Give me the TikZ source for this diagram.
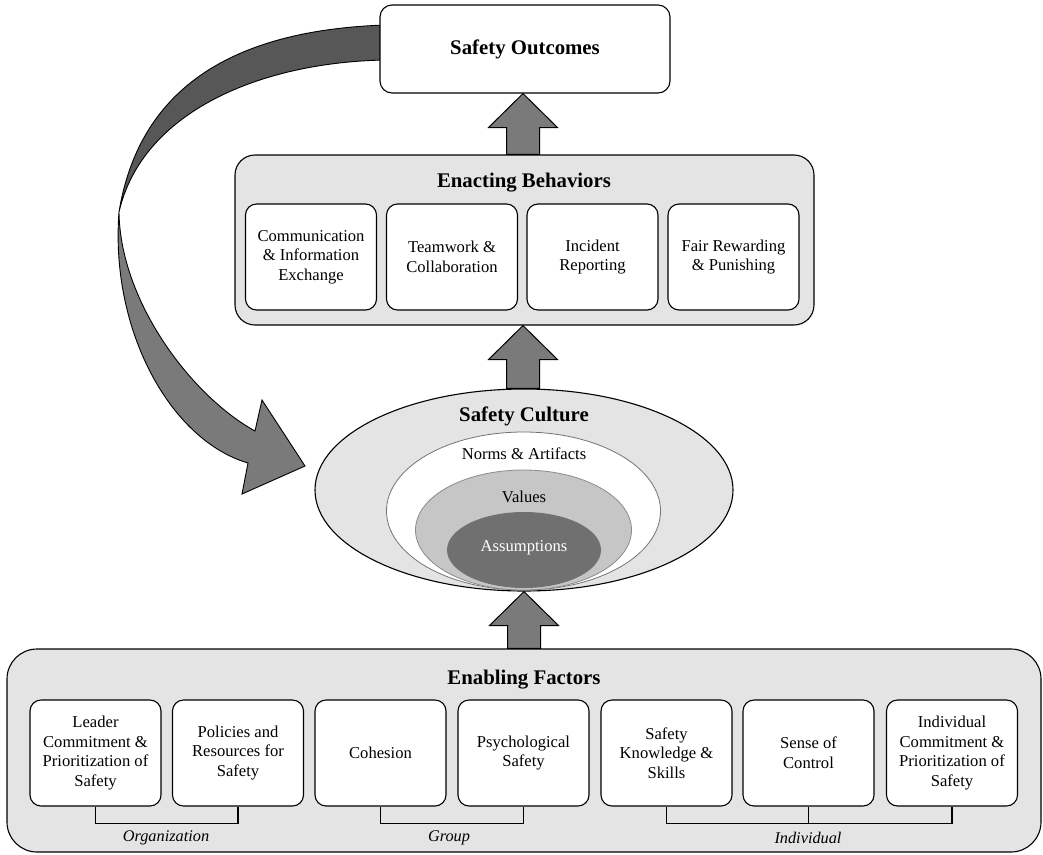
\documentclass[tikz,border=0pt]{standalone}
\usepackage{fontspec}
\setmainfont{Liberation Serif}
\usetikzlibrary{shapes.geometric,calc}
\newcommand\myBody{\fontsize{16.6}{19.7}\selectfont}
\newcommand\myTitle{\fontsize{20.8}{24}\selectfont\bfseries}
\newcommand\myItal{\fontsize{16.3}{19}\selectfont\itshape}
\definecolor{contgray}{HTML}{E4E4E4}
\definecolor{arrgray}{HTML}{7A7A7A}
\definecolor{backgray}{HTML}{575757}
\definecolor{valgray}{HTML}{C6C6C6}
\definecolor{asgray}{HTML}{707070}
\newcommand\blockup[2]{%
  \draw[blockarr] (#1) -- ($(#1)+(34.5,34)$) -- ($(#1)+(16.5,34)$) --
    ($(#1 |- #2)+(16.5,0)$) -- ($(#1 |- #2)+(-16.5,0)$) --
    ($(#1)+(-16.5,34)$) -- ($(#1)+(-34.5,34)$) -- cycle;}
\begin{document}
\begin{tikzpicture}[x=1pt,y=-1pt,
  box/.style={draw, line width=1.1pt, fill=white, rounded corners=11pt,
    minimum width=131pt, minimum height=106pt, align=center, inner sep=2pt, font=\myBody},
  cont/.style={draw, line width=1.1pt, fill=contgray},
  title/.style={font=\myTitle, inner sep=0pt},
  lbl/.style={font=\myBody, inner sep=0pt},
  grp/.style={font=\myItal, inner sep=0pt},
  blockarr/.style={draw, line width=1pt, fill=arrgray, line join=miter},
  bracket/.style={draw, line width=1.2pt},
  ell/.style={ellipse, inner sep=0pt}
]
\useasboundingbox (0,0) rectangle (1043,854);
\fill[white] (0,0) rectangle (1043,854);

% curved feedback arrow: back (upper) ribbon
\filldraw[fill=backgray, draw=black, line width=0.9pt]
  (386,25) .. controls (230,30) and (139,90) .. (119,212)
  .. controls (142,112) and (260,62) .. (386,60) -- cycle;
% front (lower) ribbon with head
\filldraw[fill=arrgray, draw=black, line width=0.9pt, line join=miter]
  (119,212) .. controls (110,330) and (170,440) .. (248,463)
  -- (242,494) -- (305,466) -- (262,400) -- (255,431)
  .. controls (190,395) and (120,300) .. (119,212) -- cycle;

% Safety Outcomes
\node[draw, line width=1.1pt, fill=white, rounded corners=12pt,
  minimum width=290pt, minimum height=88pt, font=\myTitle] (out) at (525,49) {Safety Outcomes};

% Enacting Behaviors
\node[cont, rounded corners=20pt, minimum width=579pt, minimum height=170pt] (enact) at (524.5,240) {};
\node[title] (enactT) at (524,183) {Enacting Behaviors};
\node[box] (b1) at (311,257) {Communication\\\& Information\\Exchange};
\node[box] (b2) at (452,257) {Teamwork \&\\Collaboration};
\node[box] (b3) at (592.5,257) {Incident\\Reporting};
\node[box] (b4) at (733.5,257) {Fair Rewarding\\\& Punishing};

% Safety Culture
\node[ell, draw, line width=1.1pt, fill=contgray, minimum width=418pt, minimum height=202pt] (cult) at (524,490) {};
\node[ell, draw=black!55, line width=0.8pt, fill=white, minimum width=274pt, minimum height=158pt] (norms) at (523.5,511) {};
\node[ell, draw=black!45, line width=0.8pt, fill=valgray, minimum width=216pt, minimum height=120pt] (vals) at (523.5,530) {};
\node[ell, fill=asgray, minimum width=154pt, minimum height=76pt] (assum) at (524,550) {};
\node[title] (cultT) at (524,416) {Safety Culture};
\node[lbl] (normsT) at (524,454) {Norms \& Artifacts};
\node[lbl] (valsT) at (524,497) {Values};
\node[lbl, text=white] (assumT) at (524,548) {Assumptions};

% Enabling Factors
\node[cont, rounded corners=30pt, minimum width=1034pt, minimum height=203pt] (enab) at (524,750.5) {};
\node[title] (enabT) at (524,680) {Enabling Factors};
\node[box] (e1) at (95.5,753) {Leader\\Commitment \&\\Prioritization of\\Safety};
\node[box] (e2) at (238,753) {Policies and\\Resources for\\Safety};
\node[box] (e3) at (380.5,753) {Cohesion};
\node[box] (e4) at (523.5,753) {Psychological\\Safety};
\node[box] (e5) at (666.5,753) {Safety\\Knowledge \&\\Skills};
\node[box] (e6) at (808.5,753) {Sense of\\Control};
\node[box] (e7) at (952,753) {Individual\\Commitment \&\\Prioritization of\\Safety};

% brackets
\draw[bracket] (e1.south) -- ++(0,17) -| (e2.south);
\draw[bracket] (e3.south) -- ++(0,17) -| (e4.south);
\draw[bracket] (e5.south) -- ++(0,17) -| (e7.south);
\draw[bracket] (e6.south) -- ++(0,17);
\node[grp] (gOrg) at (166,838) {Organization};
\node[grp] (gGrp) at (449,838) {Group};
\node[grp] (gInd) at (808,838) {Individual};

% block arrows
\coordinate (t1) at (out.south -| 523,0);
\coordinate (t2) at (enact.south -| 523,0);
\coordinate (t3) at (cult.south -| 524,0);
\blockup{t1}{enact.north}
\blockup{t2}{cult.north}
\blockup{t3}{enab.north}
\end{tikzpicture}
\end{document}
